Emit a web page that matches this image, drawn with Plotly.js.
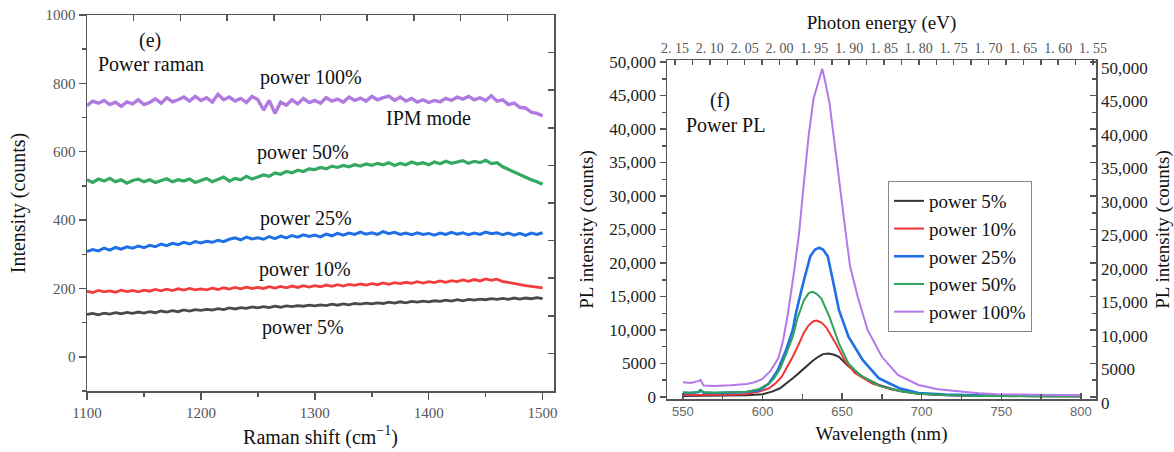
<!DOCTYPE html>
<html>
<head>
<meta charset="utf-8">
<script src="https://cdn.plot.ly/plotly-3.0.1.min.js"></script>
<style>html,body{margin:0;padding:0;background:#fff;}#chart{width:1174px;height:452px;}</style>
</head>
<body>
<div id="chart"></div>
<script>
// ---------- Panel (e): Raman ----------
const ramanShift = [
 1100,1105,1110,1115,1120,1125,1130,1135,1140,1145,
 1150,1155,1160,1165,1170,1175,1180,1185,1190,1195,
 1200,1205,1210,1215,1220,1225,1230,1235,1240,1245,
 1250,1255,1260,1265,1270,1275,1280,1285,1290,1295,
 1300,1305,1310,1315,1320,1325,1330,1335,1340,1345,
 1350,1355,1360,1365,1370,1375,1380,1385,1390,1395,
 1400,1405,1410,1415,1420,1425,1430,1435,1440,1445,
 1450,1455,1460,1465,1470,1475,1480,1485,1490,1495,
 1500];
const raman100 = [
 735,748,742,750,738,745,733,746,740,752,
 738,744,755,742,758,746,752,760,748,762,
 750,758,745,768,752,760,748,756,744,762,
 752,722,750,712,745,736,752,740,756,744,
 750,742,758,748,754,745,760,750,757,748,
 762,752,758,763,750,760,748,756,745,752,
 744,750,746,756,750,760,754,762,752,758,
 750,764,748,752,738,742,730,728,716,712,
 705];
const raman50 = [
 518,510,520,514,522,512,518,508,516,520,
 512,518,510,516,521,512,518,514,520,510,
 516,522,512,518,526,514,522,518,528,520,
 526,532,528,538,534,542,538,546,542,550,
 548,554,550,558,554,560,556,562,558,564,
 560,566,562,568,560,566,562,570,564,568,
 562,570,565,572,566,570,574,566,572,568,
 575,565,568,556,548,540,532,526,518,512,
 505];
const raman25 = [
 308,314,310,318,312,320,315,322,318,324,
 319,326,322,330,325,332,328,335,330,337,
 333,338,335,341,337,344,348,342,350,345,
 348,344,352,346,353,348,355,350,357,352,
 356,351,359,354,361,356,362,358,365,359,
 363,358,366,360,364,358,362,357,363,358,
 361,356,362,358,364,359,363,357,362,358,
 365,360,363,357,362,356,361,355,362,358,
 363];
const raman10 = [
 192,188,194,190,193,189,195,191,194,190,
 195,192,197,193,198,194,199,195,200,196,
 199,196,201,197,202,198,203,199,204,200,
 203,200,205,201,206,202,207,203,208,204,
 208,205,210,206,211,207,212,209,213,210,
 214,211,216,212,217,214,218,215,220,216,
 220,217,222,218,223,220,225,221,226,222,
 228,224,227,220,218,214,212,208,206,203,
 202];
const raman5 = [
 124,127,123,128,125,129,126,130,127,131,
 128,132,129,134,131,135,132,137,134,138,
 136,139,137,141,138,143,140,144,142,146,
 143,147,144,148,145,149,147,150,148,151,
 149,152,150,154,151,155,152,156,154,157,
 155,158,156,160,157,161,158,162,160,163,
 161,164,162,166,163,167,164,168,166,169,
 167,170,168,171,168,172,169,172,170,173,
 170];

// ---------- Panel (f): PL ----------
const plWl5  = [550,560,570,580,590,600,606,611,615,619,623,627,631,635,638,641.5,645,648,654,663,673,686,698,715,740,770,800];
const pl5    = [150,150,150,200,250,400,800,1300,2000,2800,3600,4500,5300,6000,6400,6500,6300,6000,4600,3000,1800,900,500,250,150,100,100];
const plWl10 = [550,560,570,580,590,598,604,608,612,616,619,623,626,629,632,634,637,640,643,646,652,658,669,681,698,715,740,770,800];
const pl10   = [300,300,300,350,450,800,1300,2000,3000,4700,6000,8000,9600,10700,11300,11400,11100,10400,9300,8000,5300,3600,2000,1100,500,300,150,100,100];
const plWl25 = [550,555,560,561,563,570,580,590,598,604,609.6,614.8,619,621,625,630,633,635.6,638,641,645,648,654,663,673,686,698,715,740,770,800];
const pl25   = [600,600,750,1000,650,600,650,750,1000,2000,4000,7000,10000,12500,16500,21000,22000,22300,22000,21000,16500,13000,9000,5500,2800,1300,600,350,200,150,150];
const plWl50 = [550,555,560,561,563,570,580,590,598,604,607,611,615,619,622,626,629,631.5,634,637,642,648,654,661,673,686,698,715,740,770,800];
const pl50   = [700,650,800,1050,700,650,700,800,1200,2000,2700,4200,6500,9000,11800,14400,15500,15700,15400,14700,12000,8000,5000,3300,1700,900,500,300,150,100,100];
const plWl100 = [550,555,560,561,563,570,580,590,595,600,605,610,613,616,620,623,626,629,632,635,637.5,639,642,646,649,652,655,660,666,675,685,698,710,723,736,748,770,800];
const pl100   = [2200,2100,2400,2550,1700,1650,1750,1950,2200,2700,3900,5800,8500,12500,19000,24500,32000,39000,44500,47000,49000,47500,44000,36500,30500,25000,19500,14800,10000,6000,3300,1800,1150,800,550,400,300,250];

const seriesNames = ['power 5%','power 10%','power 25%','power 50%','power 100%'];
const energyTicks = [2.15,2.10,2.05,2.00,1.95,1.90,1.85,1.80,1.75,1.70,1.65,1.60,1.55];
const energyLabels = ['2. 15','2. 10','2. 05','2. 00','1. 95','1. 90','1. 85','1. 80','1. 75','1. 70','1. 65','1. 60','1. 55'];

const colRaman = {p100:'#b07ae0', p50:'#35a862', p25:'#1f6fe6', p10:'#f23d3d', p5:'#4a4a4a'};
const colPL = ['#333333','#ee3535','#1f6fe6','#2ea35c','#b27ae8'];

const SERIF = 'Liberation Serif';
const SANS = 'Liberation Sans';

const traces = [];
const ramanSets = [[raman5,colRaman.p5,2.8],[raman10,colRaman.p10,2.8],[raman25,colRaman.p25,3],[raman50,colRaman.p50,3.2],[raman100,colRaman.p100,3.4]];
ramanSets.forEach(([ys,c,w]) => traces.push({
  x: ramanShift, y: ys, type:'scatter', mode:'lines', xaxis:'x', yaxis:'y',
  line:{color:c, width:w}, showlegend:false, hoverinfo:'skip'
}));
const plSets = [[plWl5,pl5],[plWl10,pl10],[plWl25,pl25],[plWl50,pl50],[plWl100,pl100]];
plSets.forEach(([xs,ys],i) => traces.push({
  x: xs, y: ys, type:'scatter', mode:'lines', xaxis:'x2', yaxis:'y2', name: seriesNames[i],
  line:{color:colPL[i], width: i===2 ? 2.6 : 2}
}));
traces.push({x:[], y:[], xaxis:'x3', yaxis:'y3', type:'scatter', showlegend:false});
traces.push({x:[], y:[], xaxis:'x4', yaxis:'y4', type:'scatter', showlegend:false});

const W = 1174, H = 452;
const px = v => v / W, py = v => 1 - v / H;

const axLine = {showline:true, linecolor:'#555', linewidth:1.5, showgrid:false, zeroline:false};

const layout = {
  width: W, height: H,
  margin:{l:0,r:0,t:0,b:0},
  paper_bgcolor:'#fff', plot_bgcolor:'rgba(0,0,0,0)',
  font:{family:SERIF, color:'#111'},
  showlegend:true,
  xaxis: Object.assign({}, axLine, {
    domain:[px(87), px(554)], anchor:'y', range:[1100,1510],
    tickmode:'linear', tick0:1100, dtick:100, ticks:'outside', ticklen:7, tickcolor:'#555', tickwidth:1.5,
    minor:{dtick:50, ticks:'outside', ticklen:4, tickcolor:'#555', tickwidth:1.5},
    tickfont:{family:SERIF, size:15, color:'#555'},
    title:{text:'Raman shift (cm<sup>\u22121</sup>)', font:{family:SERIF, size:20, color:'#111'}, standoff:10}
  }),
  yaxis: Object.assign({}, axLine, {
    domain:[py(391), py(15)], anchor:'x', range:[-100,1000],
    tickmode:'linear', tick0:0, dtick:200, ticks:'outside', ticklen:7, tickcolor:'#555', tickwidth:1.5,
    minor:{dtick:100, ticks:'outside', ticklen:4, tickcolor:'#555', tickwidth:1.5},
    tickfont:{family:SERIF, size:15, color:'#555'},
    title:{text:'Intensity (counts)', font:{family:SERIF, size:20, color:'#111'}, standoff:14}
  }),
  xaxis3: Object.assign({}, axLine, {
    overlaying:'x', side:'top', anchor:'y', range:[0,10], tickmode:'linear', tick0:0, dtick:1,
    ticks:'inside', ticklen:6, tickcolor:'#555', tickwidth:1.5, showticklabels:false
  }),
  yaxis3: Object.assign({}, axLine, {
    overlaying:'y', side:'right', anchor:'x', range:[0,10], tickmode:'linear', tick0:0, dtick:1,
    ticks:'inside', ticklen:6, tickcolor:'#555', tickwidth:1.5, showticklabels:false
  }),
  xaxis2: Object.assign({}, axLine, {
    domain:[px(667), px(1096)], anchor:'y2', range:[540,809.5],
    tickmode:'linear', tick0:550, dtick:50, ticks:'inside', ticklen:6, tickcolor:'#555', tickwidth:1.5,
    minor:{dtick:25, ticks:'inside', ticklen:5, tickcolor:'#555', tickwidth:1.5},
    tickfont:{family:SANS, size:13, color:'#666'},
    title:{text:'Wavelength (nm)', font:{family:SERIF, size:19, color:'#111'}, standoff:8}
  }),
  yaxis2: Object.assign({}, axLine, {
    domain:[py(399), py(60)], anchor:'x2', range:[-300,50300],
    tickmode:'linear', tick0:0, dtick:5000, tickformat:',d', labelalias:{'5,000':'5000'},
    ticks:'outside', ticklen:6, tickcolor:'#555', tickwidth:1.5,
    minor:{dtick:2500, ticks:'outside', ticklen:4, tickcolor:'#555', tickwidth:1.5},
    tickfont:{family:SERIF, size:17, color:'#222'},
    title:{text:'PL intensity (counts)', font:{family:SERIF, size:19, color:'#111'}, standoff:10}
  }),
  xaxis4: Object.assign({}, axLine, {
    overlaying:'x2', side:'top', anchor:'y2', range:[2.1615,1.5457],
    tickmode:'array', tickvals:energyTicks, ticktext:energyLabels,
    ticks:'inside', ticklen:5, tickcolor:'#555', tickwidth:1.5,
    minor:{dtick:0.025, tick0:0, ticks:'inside', ticklen:5, tickcolor:'#555', tickwidth:1.5},
    tickfont:{family:SERIF, size:14, color:'#555'},
    title:{text:'Photon energy (eV)', font:{family:SERIF, size:19, color:'#111'}, standoff:6}
  }),
  yaxis4: Object.assign({}, axLine, {
    overlaying:'y2', side:'right', anchor:'x2', range:[-300,50300],
    tickmode:'linear', tick0:0, dtick:5000, tickformat:',d', labelalias:{'5,000':'5000'},
    ticks:'inside', ticklen:6, tickcolor:'#555', tickwidth:1.5,
    minor:{dtick:2500, ticks:'inside', ticklen:4, tickcolor:'#555', tickwidth:1.5},
    tickfont:{family:SERIF, size:17, color:'#222'}, ticklabelshift:6,
    title:{text:'PL intensity (counts)', font:{family:SERIF, size:19, color:'#111'}, standoff:10}
  }),
  legend:{
    x:px(888), y:py(181), xanchor:'left', yanchor:'top',
    bgcolor:'#fff', bordercolor:'#888', borderwidth:1,
    font:{family:SERIF, size:19, color:'#111'}, tracegroupgap:0
  },
  annotations:[
    {text:'(e)', x:px(150), y:py(41), xanchor:'center'},
    {text:'Power raman', x:px(96), y:py(64), xanchor:'left'},
    {text:'power 100%', x:px(258), y:py(78), xanchor:'left'},
    {text:'IPM mode', x:px(384), y:py(118), xanchor:'left'},
    {text:'power 50%', x:px(255), y:py(152), xanchor:'left'},
    {text:'power 25%', x:px(258), y:py(218), xanchor:'left'},
    {text:'power 10%', x:px(257), y:py(269), xanchor:'left'},
    {text:'power 5%', x:px(260), y:py(327), xanchor:'left'},
    {text:'(f)', x:px(720), y:py(100), xanchor:'center'},
    {text:'Power PL', x:px(725), y:py(125), xanchor:'center'}
  ].map(a => Object.assign({xref:'paper', yref:'paper', yanchor:'middle', showarrow:false,
    font:{family:SERIF, size:20, color:'#111'}}, a))
};

Plotly.newPlot('chart', traces, layout, {staticPlot:true, displayModeBar:false});
</script>
</body>
</html>
